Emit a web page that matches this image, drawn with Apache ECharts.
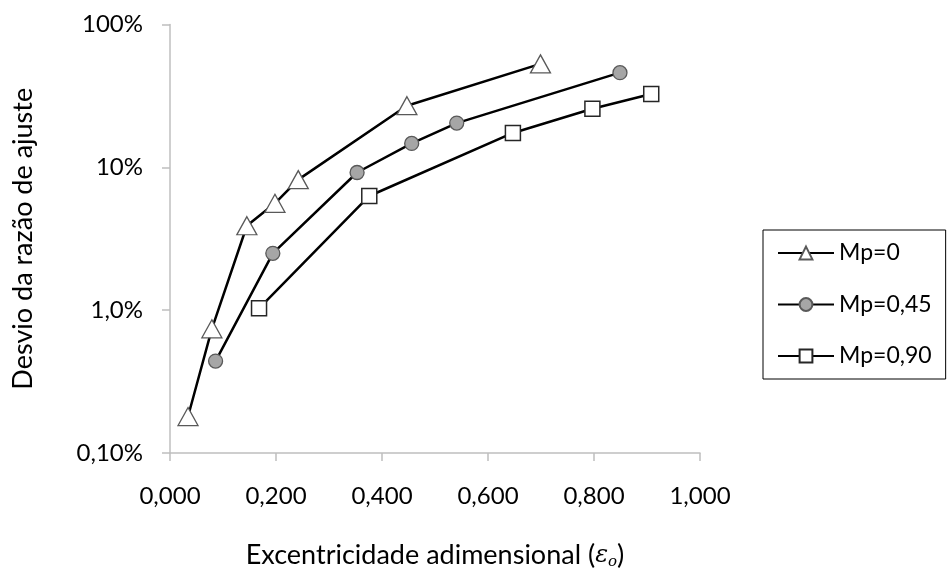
<!DOCTYPE html>
<html>
<head>
<meta charset="utf-8">
<script src="https://cdn.jsdelivr.net/npm/echarts@6/dist/echarts.min.js"></script>
<style>
  html, body { margin: 0; padding: 0; background: #fff; }
  #chart { width: 949px; height: 575px; }
</style>
</head>
<body>
<div id="chart"></div>
<script>
// Excentricidade adimensional (eixo x) e desvio em % (eixo y, log)
const seriesNames = ['Mp=0', 'Mp=0,45', 'Mp=0,90'];

const mp0X = [0.034, 0.079, 0.145, 0.198, 0.242, 0.447, 0.699];
const mp0Y = [0.18, 0.74, 3.9, 5.6, 8.2, 27, 53];

const mp045X = [0.086, 0.194, 0.353, 0.456, 0.541, 0.849];
const mp045Y = [0.44, 2.5, 9.2, 14.7, 20.4, 46];

const mp090X = [0.168, 0.376, 0.647, 0.797, 0.908];
const mp090Y = [1.03, 6.3, 17.4, 25.7, 32.6];

const xTickLabels = ['0,000', '0,200', '0,400', '0,600', '0,800', '1,000'];
const yTickValues = [0.1, 1, 10, 100];
const yTickLabels = ['0,10%', '1,0%', '10%', '100%'];

const pairs = (xs, ys) => xs.map((x, i) => [x, ys[i]]);

const FONT = 'Lato, "Open Sans", sans-serif';
const axisGrey = '#bfbfbf';

const chart = echarts.init(document.getElementById('chart'));

const lineStyle = { color: '#000', width: 2.5 };

chart.setOption({
  animation: false,
  backgroundColor: '#fff',
  textStyle: { fontFamily: FONT, color: '#000' },
  grid: { left: 170, right: 249, top: 24.5, bottom: 118, containLabel: false },
  legend: {
    orient: 'vertical',
    left: 763,
    top: 230,
    padding: [11, 14, 11, 14],
    itemWidth: 56,
    itemHeight: 16,
    itemGap: 27.5,
    borderColor: '#000',
    borderWidth: 1,
    textStyle: { fontFamily: FONT, fontSize: 23, lineHeight: 24, color: '#000' },
    data: seriesNames
  },
  xAxis: {
    type: 'value',
    min: 0,
    max: 1,
    interval: 0.2,
    name: 'Excentricidade adimensional ({e|ε}{o|o})',
    nameLocation: 'middle',
    nameGap: 88,
    nameTextStyle: {
      fontFamily: FONT, fontSize: 27, color: '#000',
      rich: {
        e: { fontFamily: '"DejaVu Serif", serif', fontStyle: 'italic', fontSize: 24, color: '#000' },
        o: { fontFamily: '"DejaVu Serif", serif', fontStyle: 'italic', fontSize: 15, color: '#000', padding: [14, 0, 0, 0] }
      }
    },
    axisLine: { show: true, lineStyle: { color: axisGrey, width: 1.5 } },
    axisTick: { show: true, length: 8, lineStyle: { color: axisGrey, width: 1.5 } },
    splitLine: { show: false },
    axisLabel: {
      margin: 31,
      fontSize: 24,
      color: '#000',
      formatter: (v) => xTickLabels[Math.round(v / 0.2)]
    }
  },
  yAxis: {
    type: 'log',
    logBase: 10,
    min: 0.1,
    max: 100,
    name: 'Desvio da razão de ajuste',
    nameLocation: 'middle',
    nameGap: 133,
    nameTextStyle: { fontFamily: FONT, fontSize: 27, color: '#000' },
    axisLine: { show: true, lineStyle: { color: axisGrey, width: 1.5 } },
    axisTick: { show: true, length: 8, lineStyle: { color: axisGrey, width: 1.5 } },
    splitLine: { show: false },
    minorTick: { show: false },
    axisLabel: {
      margin: 27,
      fontSize: 24,
      color: '#000',
      formatter: (v) => {
        const i = yTickValues.findIndex(t => Math.abs(t - v) / t < 1e-6);
        return i >= 0 ? yTickLabels[i] : '';
      }
    }
  },
  series: [
    {
      name: seriesNames[0],
      type: 'line',
      data: pairs(mp0X, mp0Y),
      symbol: 'triangle',
      symbolSize: [20, 18],
      showAllSymbol: true,
      lineStyle: lineStyle,
      itemStyle: { color: '#fff', borderColor: '#595959', borderWidth: 1.3 },
      z: 3
    },
    {
      name: seriesNames[1],
      type: 'line',
      data: pairs(mp045X, mp045Y),
      symbol: 'circle',
      symbolSize: 14,
      showAllSymbol: true,
      lineStyle: lineStyle,
      itemStyle: { color: '#a6a6a6', borderColor: '#595959', borderWidth: 1.3 },
      z: 3
    },
    {
      name: seriesNames[2],
      type: 'line',
      data: pairs(mp090X, mp090Y),
      symbol: 'rect',
      symbolSize: 15,
      showAllSymbol: true,
      lineStyle: lineStyle,
      itemStyle: { color: '#fff', borderColor: '#262626', borderWidth: 1.5 },
      z: 3
    }
  ]
});
</script>
</body>
</html>
